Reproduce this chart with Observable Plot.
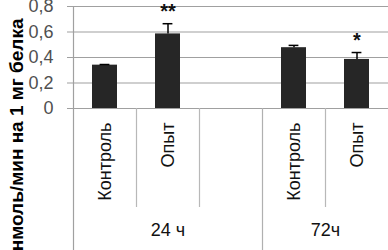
<!DOCTYPE html>
<html><head><meta charset="utf-8">
<script src="https://cdn.jsdelivr.net/npm/d3@7"></script>
<script src="https://cdn.jsdelivr.net/npm/@observablehq/plot@0.6"></script>
<style>body{margin:0;background:#fff}</style>
</head><body><div id="chart"></div>
<script>
const slots = ["k24", "o24", "gap", "k72", "o72"];
const slotLabels = ["Контроль", "Опыт", "", "Контроль", "Опыт"];
const barSlots = ["k24", "o24", "k72", "o72"];
const means = [0.34, 0.585, 0.477, 0.385];
const errors = [0.005, 0.08, 0.018, 0.054];
const stars = ["", "**", "", "*"];
const groupLabels = ["24 ч", "72ч"];
const groupSlots = ["o24", "k72"];
const yTicks = [0, 0.2, 0.4, 0.6, 0.8];
const yLabel = "нмоль/мин на 1 мг белка";

const bars = barSlots.map((s, i) => ({slot: s, mean: means[i], err: errors[i], star: stars[i]}));
const labelOf = new Map(slots.map((s, i) => [s, slotLabels[i]]));
const half = 31.5;

const chart = Plot.plot({
  width: 388, height: 250,
  marginLeft: 73, marginRight: 0, marginTop: 6, marginBottom: 142,
  style: {fontFamily: "'Liberation Sans', Arial, sans-serif", fontSize: "18px", background: "#fff", color: "#000", overflow: "visible"},
  x: {type: "band", domain: slots, paddingInner: 0.6, paddingOuter: 0.3, axis: null},
  y: {domain: [0, 0.8], axis: null},
  marks: [
    Plot.ruleY(yTicks, {stroke: "#a0a0a0", strokeWidth: 1.2, insetLeft: -6}),
    Plot.ruleX(["k24"], {dx: -half, y1: 0.8, y2: 0, insetBottom: -142, stroke: "#a0a0a0", strokeWidth: 1.2}),
    Plot.ruleX(["k72"], {dx: -half, y1: 0, y2: 0, insetBottom: -142, stroke: "#b0b0b0", strokeWidth: 1.2}),
    Plot.ruleX(["o24", "gap", "o72"], {dx: -half, y1: 0, y2: 0, insetBottom: -99, stroke: "#b8b8b8", strokeWidth: 1.2}),
    Plot.axisY({ticks: yTicks, label: null, tickSize: 0, tickPadding: 20, tickFormat: d => String(d).replace(".", ","), fill: "#505050", fontSize: 18}),
    Plot.barY(bars, {x: "slot", y: "mean", fill: "#262626"}),
    Plot.ruleX(bars, {x: "slot", y1: "mean", y2: d => d.mean + d.err, stroke: "#000", strokeWidth: 1.5}),
    Plot.tickY(bars, {x: "slot", y: d => d.mean + d.err, stroke: "#000", strokeWidth: 1.5, insetLeft: 7.6, insetRight: 7.6}),
    Plot.text(bars, {x: "slot", y: d => d.mean + d.err, text: "star", dy: -12, fontSize: 20, fontWeight: "bold", fill: "#111"}),
    Plot.axisX({tickFormat: d => labelOf.get(d), label: null, tickSize: 0, tickPadding: 14, tickRotate: -90, fill: "#111", fontSize: 18}),
    Plot.text([groupLabels[0]], {x: [groupSlots[0]], text: d => d, frameAnchor: "bottom", dy: 127, fill: "#111", fontSize: 18}),
    Plot.text([groupLabels[1]], {x: [groupSlots[1]], text: d => d, frameAnchor: "bottom", dx: half, dy: 127, fill: "#111", fontSize: 18}),
    Plot.text([yLabel], {frameAnchor: "top-left", dx: -64, dy: 12, rotate: -90, textAnchor: "end", text: d => d, fontWeight: "bold", fontSize: 19, fill: "#000"})
  ]
});
document.getElementById("chart").appendChild(chart);
</script>
</body></html>
